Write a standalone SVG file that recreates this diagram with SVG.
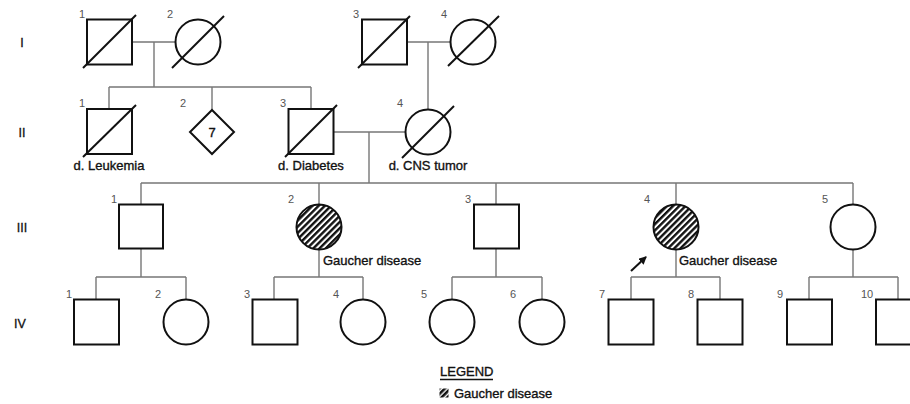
<svg xmlns="http://www.w3.org/2000/svg" width="910" height="404" viewBox="0 0 910 404">
<defs>
<pattern id="hatch" patternUnits="userSpaceOnUse" width="4.4" height="4.4" patternTransform="rotate(-45)">
<rect width="4.4" height="4.4" fill="#fff"/>
<rect width="4.4" height="2.4" fill="#111"/>
</pattern>
<pattern id="hatch2" patternUnits="userSpaceOnUse" width="4" height="4" patternTransform="rotate(-45)">
<rect width="4" height="4" fill="#fff"/>
<rect width="4" height="2.6" fill="#111"/>
</pattern>
<marker id="ah" markerWidth="8" markerHeight="8" refX="7" refY="4" orient="auto" markerUnits="userSpaceOnUse">
<path d="M0,0 L8,4 L0,8 z" fill="#111"/>
</marker>
</defs>
<style>
.sym{fill:#fff;stroke:#111;stroke-width:2}
.aff{fill:url(#hatch);stroke:#111;stroke-width:2}
.dec{stroke:#111;stroke-width:2}
.con{stroke:#777;stroke-width:1.4;fill:none}
.num{font-family:"Liberation Sans",Arial,sans-serif;font-size:11px;fill:#555;text-anchor:middle}
.lbl{font-family:"Liberation Sans",Arial,sans-serif;font-size:13px;fill:#111;stroke:#111;stroke-width:0.35}
.gen{font-family:"Liberation Sans",Arial,sans-serif;font-size:12.5px;fill:#111;stroke:#111;stroke-width:0.3;text-anchor:middle}
</style>
<rect width="910" height="404" fill="#fff"/>

<g id="generations">
<text class="gen" x="22" y="47">I</text>
<text class="gen" x="22" y="137">II</text>
<text class="gen" x="22" y="232">III</text>
<text class="gen" x="20" y="328">IV</text>
</g>

<g id="connectors">
<path class="con" d="M132,42 H176 M154,42 V87 M109,87 H311 M109,87 V108 M212,87 V110 M311,87 V108"/>
<path class="con" d="M406,42 H450 M428,42 V109"/>
<path class="con" d="M333,132 H406 M369,132 V183 M141,183 H853 M141,183 V204 M319,183 V204 M496,183 V204 M676,183 V204 M853,183 V204"/>
<path class="con" d="M141,249 V277 M96,277 H186 M96,277 V299 M186,277 V299"/>
<path class="con" d="M319,249 V277 M274,277 H363 M274,277 V299 M363,277 V299"/>
<path class="con" d="M496,249 V277 M452,277 H542 M452,277 V299 M542,277 V299"/>
<path class="con" d="M676,249 V277 M631,277 H720 M631,277 V299 M720,277 V299"/>
<path class="con" d="M853,249 V277 M809,277 H898 M809,277 V299 M898,277 V299"/>
</g>

<g id="I-1"><rect class="sym" x="87" y="19.5" width="45" height="45"/><line class="dec" x1="83" y1="68" x2="136" y2="15"/><text class="num" x="82" y="18">1</text></g>
<g id="I-2"><circle class="sym" cx="198" cy="42" r="22.5"/><line class="dec" x1="172" y1="68" x2="224" y2="16"/><text class="num" x="170" y="18">2</text></g>
<g id="I-3"><rect class="sym" x="362" y="19.5" width="45" height="45"/><line class="dec" x1="358" y1="68" x2="410" y2="16"/><text class="num" x="356" y="18">3</text></g>
<g id="I-4"><circle class="sym" cx="473" cy="42" r="22.5"/><line class="dec" x1="448" y1="66" x2="499" y2="16"/><text class="num" x="444" y="18">4</text></g>

<g id="II-1"><rect class="sym" x="87" y="109" width="45" height="45"/><line class="dec" x1="83" y1="157" x2="136" y2="105"/><text class="num" x="82" y="107">1</text><text class="lbl" x="109" y="170" text-anchor="middle">d. Leukemia</text></g>
<g id="II-2"><path class="sym" d="M212,110 L234,132 L212,154 L190,132 z"/><text class="lbl" x="212" y="137" text-anchor="middle">7</text><text class="num" x="183" y="107">2</text></g>
<g id="II-3"><rect class="sym" x="288.5" y="109" width="45" height="45"/><line class="dec" x1="285" y1="157" x2="337" y2="105"/><text class="num" x="283" y="107">3</text><text class="lbl" x="311" y="170" text-anchor="middle">d. Diabetes</text></g>
<g id="II-4"><circle class="sym" cx="428" cy="132" r="22.5"/><line class="dec" x1="402" y1="158" x2="454" y2="106"/><text class="num" x="400" y="107">4</text><text class="lbl" x="428" y="170" text-anchor="middle">d. CNS tumor</text></g>

<g id="III-1"><rect class="sym" x="119" y="204.5" width="44" height="44"/><text class="num" x="114" y="203">1</text></g>
<g id="III-2"><circle class="aff" cx="319" cy="227" r="22.5"/><text class="num" x="291" y="203">2</text><text class="lbl" x="323" y="265">Gaucher disease</text></g>
<g id="III-3"><rect class="sym" x="474" y="204.5" width="45" height="44"/><text class="num" x="468" y="203">3</text></g>
<g id="III-4"><circle class="aff" cx="676" cy="227" r="22.5"/><text class="num" x="647" y="203">4</text><text class="lbl" x="679" y="265">Gaucher disease</text><line class="dec" x1="631" y1="271" x2="646" y2="257" stroke-width="1.3" marker-end="url(#ah)"/></g>
<g id="III-5"><circle class="sym" cx="853" cy="227" r="22.5"/><text class="num" x="825" y="203">5</text></g>

<g id="IV-1"><rect class="sym" x="74" y="299.5" width="45" height="45"/><text class="num" x="69" y="298">1</text></g>
<g id="IV-2"><circle class="sym" cx="186" cy="322" r="22.5"/><text class="num" x="158" y="298">2</text></g>
<g id="IV-3"><rect class="sym" x="252.5" y="299.5" width="45" height="45"/><text class="num" x="247" y="298">3</text></g>
<g id="IV-4"><circle class="sym" cx="363" cy="322" r="22.5"/><text class="num" x="336" y="298">4</text></g>
<g id="IV-5"><circle class="sym" cx="452" cy="322" r="22.5"/><text class="num" x="424" y="298">5</text></g>
<g id="IV-6"><circle class="sym" cx="542" cy="322" r="22.5"/><text class="num" x="513" y="298">6</text></g>
<g id="IV-7"><rect class="sym" x="608.5" y="299.5" width="45" height="45"/><text class="num" x="602" y="298">7</text></g>
<g id="IV-8"><rect class="sym" x="697.5" y="299.5" width="45" height="45"/><text class="num" x="691" y="298">8</text></g>
<g id="IV-9"><rect class="sym" x="787" y="299.5" width="45" height="45"/><text class="num" x="780" y="298">9</text></g>
<g id="IV-10"><rect class="sym" x="876" y="299.5" width="45" height="45"/><text class="num" x="867" y="298">10</text></g>

<g id="legend">
<text class="lbl" x="440" y="376">LEGEND</text>
<line x1="440" y1="379.5" x2="493" y2="379.5" stroke="#111" stroke-width="1.3"/>
<rect x="439.5" y="388.5" width="9" height="9" fill="url(#hatch2)"/>
<text class="lbl" x="454" y="398">Gaucher disease</text>
</g>
</svg>
